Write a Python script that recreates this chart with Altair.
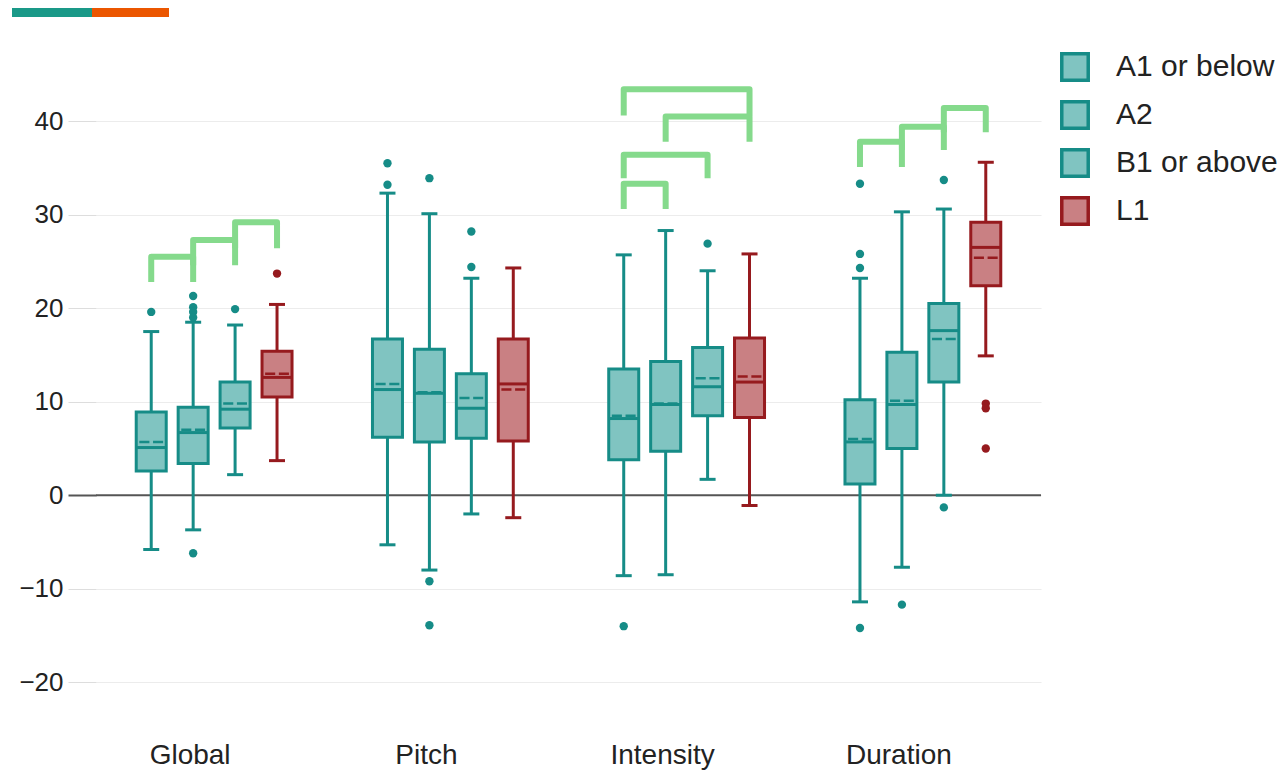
import altair as alt
import pandas as pd

groups = ["Global", "Pitch", "Intensity", "Duration"]
levels = ["A1 or below", "A2", "B1 or above", "L1"]

# summary statistics, listed group by group, level by level
q1 = [2.6, 3.4, 7.2, 10.5, 6.2, 5.7, 6.1, 5.8, 3.8, 4.7, 8.5, 8.3, 1.2, 5.0, 12.1, 22.4]
q3 = [8.9, 9.4, 12.1, 15.4, 16.7, 15.6, 13.0, 16.7, 13.5, 14.3, 15.8, 16.8, 10.2, 15.3, 20.5, 29.2]
median = [5.1, 6.7, 9.2, 12.6, 11.3, 10.9, 9.3, 11.9, 8.2, 9.7, 11.6, 12.1, 5.7, 9.7, 17.6, 26.5]
mean = [5.7, 7.0, 9.8, 13.0, 11.9, 11.0, 10.4, 11.3, 8.5, 9.8, 12.5, 12.7, 6.0, 10.1, 16.7, 25.4]
whisker_low = [-5.8, -3.7, 2.2, 3.7, -5.3, -8.0, -2.0, -2.4, -8.6, -8.5, 1.7, -1.1, -11.4, -7.7, 0.0, 14.9]
whisker_high = [17.5, 18.5, 18.2, 20.4, 32.3, 30.1, 23.2, 24.3, 25.7, 28.3, 24.0, 25.8, 23.2, 30.3, 30.6, 35.6]

outlier_group = ["Global", "Global", "Global", "Global", "Global", "Global", "Global", "Global",
                 "Pitch", "Pitch", "Pitch", "Pitch", "Pitch", "Pitch", "Pitch",
                 "Intensity", "Intensity",
                 "Duration", "Duration", "Duration", "Duration", "Duration", "Duration", "Duration",
                 "Duration", "Duration", "Duration"]
outlier_level = ["A1 or below", "A2", "A2", "A2", "A2", "A2", "B1 or above", "L1",
                 "A1 or below", "A1 or below", "A2", "A2", "A2", "B1 or above", "B1 or above",
                 "A1 or below", "B1 or above",
                 "A1 or below", "A1 or below", "A1 or below", "A1 or below", "A2", "B1 or above",
                 "B1 or above", "L1", "L1", "L1"]
outlier_value = [19.6, 21.3, 20.1, 19.6, 19.0, -6.2, 19.9, 23.7,
                 35.5, 33.2, 33.9, -9.2, -13.9, 28.2, 24.4,
                 -14.0, 26.9,
                 33.3, 25.8, 24.3, -14.2, -11.7, 33.7, -1.3, 9.8, 9.3, 5.0]

# significance brackets: group, from level, to level, bar height, leg end
bracket_group = ["Global", "Global", "Global", "Intensity", "Intensity", "Intensity", "Intensity",
                 "Duration", "Duration", "Duration"]
bracket_from = ["A1 or below", "A2", "B1 or above", "A1 or below", "A2", "A1 or below", "A1 or below",
                "A1 or below", "A2", "B1 or above"]
bracket_to = ["A2", "B1 or above", "L1", "L1", "L1", "B1 or above", "A2",
              "A2", "B1 or above", "L1"]
bracket_top = [25.5, 27.3, 29.2, 43.4, 40.5, 36.4, 33.3, 37.8, 39.4, 41.4]
bracket_leg = [22.8, 24.6, 26.4, 40.6, 37.8, 33.9, 30.6, 35.1, 36.9, 38.8]

stats = pd.DataFrame({
    "group": [g for g in groups for _ in levels],
    "level": [l for _ in groups for l in levels],
    "q1": q1, "q3": q3, "median": median, "mean": mean,
    "lo": whisker_low, "hi": whisker_high,
})
stats["lvl"] = stats["level"]
outliers = pd.DataFrame({"group": outlier_group, "lvl": outlier_level, "value": outlier_value})
outliers["level"] = outliers["lvl"]

rows = []
for i in range(len(bracket_group)):
    pts = [(bracket_from[i], bracket_leg[i]), (bracket_from[i], bracket_top[i]),
           (bracket_to[i], bracket_top[i]), (bracket_to[i], bracket_leg[i])]
    for k, (lv, yv) in enumerate(pts):
        rows.append({"id": i, "order": k, "group": bracket_group[i], "level": lv, "y": yv})
brackets = pd.DataFrame(rows)

FONT = "Liberation Sans"
stroke_range = ["#168C87", "#168C87", "#168C87", "#961A1E"]
fill_range = ["#80C4C1", "#80C4C1", "#80C4C1", "#C98083"]

ydom = alt.Scale(domain=[-22, 46], nice=False, zero=False)
X = alt.X("group:N", sort=groups, title=None,
          scale=alt.Scale(paddingInner=0.29, paddingOuter=0.145),
          axis=alt.Axis(domain=False, ticks=False, tickSize=0, labelFontSize=28, labelFont=FONT,
                        labelColor="#222", labelPadding=40, labelOffset=-24, labelAngle=0))
XO = alt.XOffset("level:N", sort=levels, scale=alt.Scale(paddingInner=0, paddingOuter=0))
# data-driven domain (sorted), so this legend-less scale does not merge with the fill/stroke legend
col = alt.Color("lvl:N", sort=levels, scale=alt.Scale(range=stroke_range), legend=None)

base = alt.Chart(stats)

zero = alt.Chart(pd.DataFrame({"z": [0]})).mark_rule(color="#555555", strokeWidth=2).encode(
    y=alt.Y("z:Q", scale=ydom, title=None,
            axis=alt.Axis(values=[-20, -10, 0, 10, 20, 30, 40], grid=True, gridColor="#ececec",
                          gridWidth=1.2, domain=False, tickSize=28,
                          tickColor={"condition": {"test": "datum.value == 0", "value": "#555555"},
                                     "value": "#dddddd"},
                          tickWidth={"condition": {"test": "datum.value == 0", "value": 2},
                                     "value": 1},
                          labelFontSize=26, labelFont=FONT, labelColor="#222", labelPadding=5))
)

whisk = base.mark_rule(strokeWidth=3).encode(x=X, xOffset=XO, y=alt.Y("lo:Q", scale=ydom), y2="hi:Q", color=col)
cap_lo = base.mark_tick(size=16, thickness=3, opacity=1).encode(x=X, xOffset=XO, y=alt.Y("lo:Q", scale=ydom), color=col)
cap_hi = base.mark_tick(size=16, thickness=3, opacity=1).encode(x=X, xOffset=XO, y=alt.Y("hi:Q", scale=ydom), color=col)

legend = alt.Legend(title=None, orient="none", legendX=964, legendY=-13, symbolType="square",
                    symbolSize=700, symbolStrokeWidth=3.5, labelFontSize=30, labelFont=FONT,
                    labelColor="#222", rowPadding=6, labelOffset=26, labelLimit=0, symbolOpacity=1)
box = base.mark_bar(width=30, strokeWidth=3, opacity=1).encode(
    x=X, xOffset=XO, y=alt.Y("q1:Q", scale=ydom), y2="q3:Q",
    fill=alt.Fill("level:N", sort=levels, scale=alt.Scale(domain=levels, range=fill_range), legend=legend),
    stroke=alt.Stroke("level:N", sort=levels, scale=alt.Scale(domain=levels, range=stroke_range), legend=legend),
)
med = base.mark_tick(size=30, thickness=3, opacity=1).encode(x=X, xOffset=XO, y=alt.Y("median:Q", scale=ydom), color=col)
mean_mark = base.mark_point(shape="M-0.85,0H-0.13M0.13,0H0.85", size=784, filled=False,
                            strokeWidth=2.5, opacity=1).encode(
    x=X, xOffset=XO, y=alt.Y("mean:Q", scale=ydom), color=col)

pts = alt.Chart(outliers).mark_circle(size=70, opacity=1).encode(
    x=X, xOffset=XO, y=alt.Y("value:Q", scale=ydom), color=col)

brk = alt.Chart(brackets).mark_line(strokeWidth=6, color="#85DA8C", strokeJoin="round").encode(
    x=X, xOffset=XO, y=alt.Y("y:Q", scale=ydom), detail="id:N", order="order:Q")

deco = alt.Chart(pd.DataFrame({"a": [0]}))
deco1 = deco.mark_rect(color="#1A9988").encode(x=alt.value(-84), x2=alt.value(-4), y=alt.value(-57), y2=alt.value(-48))
deco2 = deco.mark_rect(color="#EB5600").encode(x=alt.value(-4), x2=alt.value(73), y=alt.value(-57), y2=alt.value(-48))

chart = alt.layer(zero, whisk, cap_lo, cap_hi, box, med, mean_mark, pts, brk, deco1, deco2).properties(
    width=945, height=636,
    autosize=alt.AutoSizeParams(type="none"),
    padding={"left": 88, "top": 57, "right": 238, "bottom": 71},
).configure_view(stroke=None).configure_axis(labelFont=FONT)

chart.save("out.html", embed_options={"renderer": "svg", "actions": False})
